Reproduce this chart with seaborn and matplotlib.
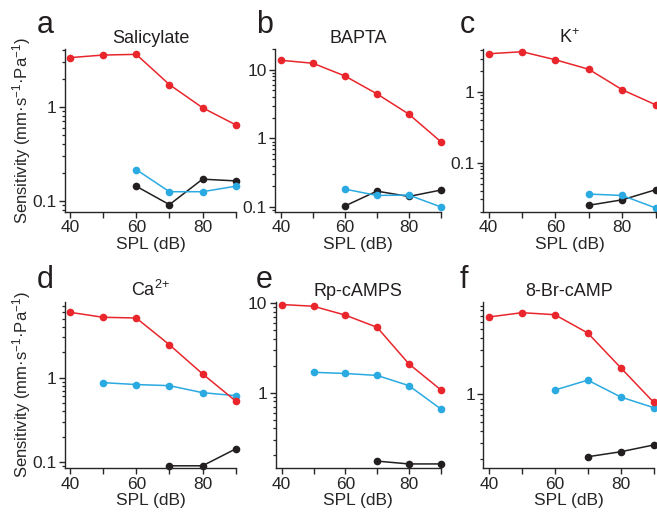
import numpy as np
import pandas as pd
import matplotlib
matplotlib.use('Agg')
import matplotlib.pyplot as plt
from matplotlib.ticker import LogLocator, FuncFormatter, NullFormatter
import seaborn as sns

nan = np.nan

# sound pressure levels (dB SPL)
spl = [40, 50, 60, 70, 80, 90]

letters = ['a', 'b', 'c', 'd', 'e', 'f']
titles = ['Salicylate', 'BAPTA', 'K$^{+}$', 'Ca$^{2\\!+}$', 'Rp-cAMPS', '8-Br-cAMP']

# sensitivity (mm s^-1 Pa^-1), per panel and trace
sal_red = [3.35, 3.57, 3.63, 1.73, 0.98, 0.645]
sal_blue = [nan, nan, 0.215, 0.125, 0.125, 0.143]
sal_black = [nan, nan, 0.143, 0.091, 0.17, 0.163]

bapta_red = [13.7, 12.4, 8.1, 4.46, 2.26, 0.90]
bapta_blue = [nan, nan, 0.183, 0.148, 0.15, 0.101]
bapta_black = [nan, nan, 0.104, 0.171, 0.143, 0.177]

k_red = [3.51, 3.75, 2.88, 2.11, 1.08, 0.66]
k_blue = [nan, nan, nan, 0.0356, 0.034, 0.0226]
k_black = [nan, nan, nan, 0.0247, 0.0295, 0.041]

ca_red = [5.92, 5.17, 5.07, 2.45, 1.11, 0.53]
ca_blue = [nan, 0.873, 0.83, 0.805, 0.665, 0.613]
ca_black = [nan, nan, nan, 0.091, 0.091, 0.144]

rp_red = [9.67, 9.25, 7.36, 5.38, 2.10, 1.08]
rp_blue = [nan, 1.69, 1.64, 1.56, 1.20, 0.66]
rp_black = [nan, nan, nan, 0.172, 0.16, 0.16]

br_red = [6.78, 7.54, 7.18, 4.56, 1.93, 0.82]
br_blue = [nan, nan, 1.11, 1.42, 0.935, 0.718]
br_black = [nan, nan, nan, 0.213, 0.241, 0.285]

panel_data = [
    (sal_red, sal_blue, sal_black),
    (bapta_red, bapta_blue, bapta_black),
    (k_red, k_blue, k_black),
    (ca_red, ca_blue, ca_black),
    (rp_red, rp_blue, rp_black),
    (br_red, br_blue, br_black),
]
ylims = [(0.076, 4.14), (0.085, 20.0), (0.0198, 4.1),
         (0.085, 7.9), (0.143, 10.4), (0.16, 9.9)]

palette = {'red': '#E8262C', 'blue': '#2AAAE1', 'black': '#231F20'}

sns.set_style('ticks')
plt.rcParams['font.family'] = ['Liberation Sans', 'DejaVu Sans']
plt.rcParams['mathtext.fontset'] = 'custom'
plt.rcParams['mathtext.rm'] = 'Liberation Sans'
plt.rcParams['mathtext.it'] = 'Liberation Sans:italic'
plt.rcParams['axes.linewidth'] = 1.0
plt.rcParams['text.color'] = '#231F20'

W, H = 657, 519
fig = plt.figure(figsize=(W / 100, H / 100), dpi=100)

# pixel boxes: (left, right) and xlim for each column; (top, bottom) per row
cols = [(65, 236, (38.5, 90.1)), (275, 441, (38.1, 90.1)), (483, 656, (38.3, 90.1))]
rows = [(49, 212), (301.7, 468.3)]

for i in range(6):
    r, c = divmod(i, 3)
    left, right, xl = cols[c]
    top, bottom = rows[r]
    if i == 4:
        left, right, xl = 275.7, 441, (38.1, 90.1)
    if i == 5:
        left, right, xl = 483.3, 654, (38.3, 90.1)
    ax = fig.add_axes([left / W, 1 - bottom / H, (right - left) / W, (bottom - top) / H])

    red, blue, black = panel_data[i]
    df = pd.DataFrame({
        'spl': spl * 3,
        'sens': list(red) + list(blue) + list(black),
        'trace': ['red'] * 6 + ['blue'] * 6 + ['black'] * 6,
    }).dropna()
    sns.lineplot(data=df, x='spl', y='sens', hue='trace', palette=palette,
                 hue_order=['black', 'blue', 'red'], estimator=None,
                 marker='o', markersize=5.5, markeredgewidth=0, linewidth=1.1,
                 legend=False, ax=ax, clip_on=False)

    ax.set_yscale('log')
    ax.set_ylim(*ylims[i])
    ax.set_xlim(*xl)
    ax.yaxis.set_major_locator(LogLocator(base=10))
    ax.yaxis.set_minor_locator(LogLocator(base=10, subs=np.arange(2, 10)))
    ax.yaxis.set_major_formatter(FuncFormatter(lambda v, p: f'{v:g}'))
    ax.yaxis.set_minor_formatter(NullFormatter())
    ax.set_xticks(spl)
    ax.set_xticklabels(['40', '', '60', '', '80', ''])
    ax.tick_params(axis='both', which='major', length=4, width=1, labelsize=12.5, pad=2)
    ax.tick_params(axis='y', which='minor', length=2.5, width=0.9)
    sns.despine(ax=ax)

    ax.set_xlabel('SPL (dB)', fontsize=12.5, labelpad=1)
    if c == 0:
        ax.set_ylabel('Sensitivity (mm·s$^{-1}$·Pa$^{-1}$)', fontsize=12, labelpad=2)
        ax.yaxis.set_label_coords(-0.19, 0.5)
    else:
        ax.set_ylabel('')
    ax.set_title(titles[i], fontsize=13, pad=4)

    lx = [37, 256, 460][c]
    ly = [33, 288][r]
    fig.text(lx / W, 1 - ly / H, letters[i], fontsize=22, ha='left', va='baseline')

fig.savefig('out.png', dpi=100)
